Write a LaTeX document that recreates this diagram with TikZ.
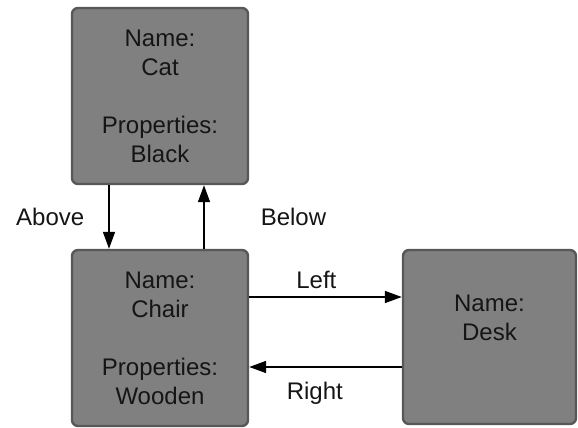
\documentclass[tikz,border=0pt]{standalone}
\usepackage{fontspec}
\setmainfont{Liberation Sans}
\usetikzlibrary{arrows.meta}
\definecolor{boxgrey}{HTML}{808080}
\definecolor{boxedge}{HTML}{585858}
\definecolor{inktext}{HTML}{151515}
\begin{document}
\begin{tikzpicture}[x=1pt,y=-1pt,
  box/.style={draw=boxedge,fill=boxgrey,line width=2.4pt,rounded corners=6pt,
    minimum width=176pt,minimum height=176pt,align=center,inner sep=0pt,
    font=\fontsize{24}{29}\selectfont,text=inktext},
  link/.style={line width=1.6pt,-{Triangle[length=17pt,width=12pt]}},
  tag/.style={font=\fontsize{24}{29}\selectfont,inner sep=0pt,text=inktext}]
\useasboundingbox (0,0) rectangle (578,428);
\node[box] (cat) at (160,96) {Name:\\Cat\\[29pt]Properties:\\Black};
\node[box] (chair) at (160,338) {Name:\\Chair\\[29pt]Properties:\\Wooden};
\node[box,minimum width=173pt,minimum height=174pt,
  label={[tag,align=center,yshift=19.5pt]center:{Name:\\Desk}}] (desk) at (489.5,337) {};
% above / below
\draw[link] ([xshift=-51pt]cat.south) -- ([xshift=-51pt]chair.north) node[midway,left=24pt,tag]{Above};
\draw[link] ([xshift=44pt]chair.north) -- ([xshift=44pt]cat.south) node[midway,right=56pt,tag]{Below};
% left / right
\coordinate (l) at ([yshift=41pt]chair.east);
\coordinate (r) at ([yshift=-30pt]desk.west);
\draw[link] (l) -- (l -| desk.west) node[pos=0.44,above=7pt,tag]{Left};
\draw[link] (r) -- (r -| chair.east) node[pos=0.57,below=14pt,tag]{Right};
\end{tikzpicture}
\end{document}
